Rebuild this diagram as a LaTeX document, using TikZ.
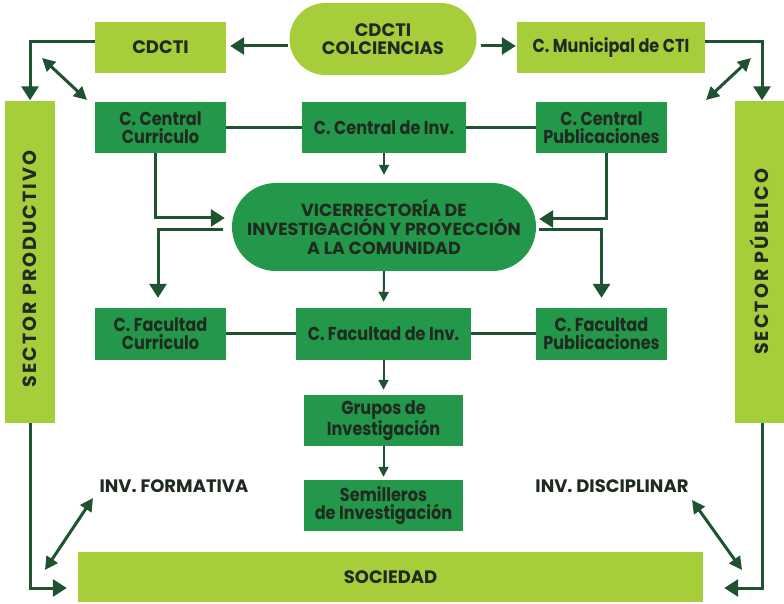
\documentclass[tikz,border=0pt]{standalone}
\usepackage{fontspec}
\setmainfont{Poppins}[FakeStretch=0.86]
\newfontfamily\capsfont{Poppins}
\newfontfamily\sidefont{Poppins}[LetterSpace=11]
\usetikzlibrary{shapes.misc,arrows.meta}
\definecolor{lg}{HTML}{A6CE3A}
\definecolor{dg}{HTML}{24984A}
\definecolor{ln}{HTML}{1E5230}
\definecolor{tx}{HTML}{1F2A21}
\begin{document}
\begin{tikzpicture}[x=1pt,y=1pt,
  box/.style={rectangle, draw=none, inner sep=0pt, align=center, text=tx,
    font=\bfseries\fontsize{18.7}{18}\selectfont},
  caps/.style={font=\capsfont\bfseries\fontsize{18}{18}\selectfont},
  lite/.style={box, fill=lg},
  dark/.style={box, fill=dg},
  pill/.style={rounded rectangle, draw=none, inner sep=0pt, align=center, text=tx},
  wire/.style={draw=ln, line width=3pt},
  thin/.style={draw=ln, line width=2pt},
  big/.style={wire, -{Triangle[length=14pt,width=17pt]}},
  small/.style={thin, -{Triangle[length=10pt,width=10pt]}},
  both/.style={wire, {Triangle[length=13pt,width=13pt]}-{Triangle[length=13pt,width=13pt]}},
  free/.style={text=tx, caps},
  side/.style={text=tx, rotate=90, font=\sidefont\bfseries\fontsize{19}{19}\selectfont}
]
\useasboundingbox (0,0) rectangle (784,603);

% top row
\node[pill, fill=lg, minimum width=187, minimum height=72, caps] (colc) at (383,564) {CDCTI\\COLCIENCIAS};
\node[lite, minimum width=131, minimum height=51, caps] (cdcti) at (160.5,555.5) {CDCTI};
\node[lite, minimum width=188, minimum height=51] (muni) at (611,555.5) {C. Municipal de CTI};

% side sectors
\node[lite, minimum width=50, minimum height=321] (sp) at (30,341) {};
\node[side] (sptxt) at ([yshift=-7pt]sp.center) {SECTOR PRODUCTIVO};
\node[lite, minimum width=49, minimum height=321] (spub) at (759.5,341) {};
\node[side] (spubtxt) at (spub.center) {SECTOR PÚBLICO};

% central committees
\node[dark, minimum width=131, minimum height=51] (ccc) at (160.5,475.5) {C. Central\\Curriculo};
\node[dark, minimum width=164, minimum height=51] (cci) at (384,475.5) {C. Central de Inv.};
\node[dark, minimum width=131, minimum height=51] (ccp) at (601.5,475.5) {C. Central\\Publicaciones};

% vice-rectorate
\node[pill, fill=dg, minimum width=304, minimum height=88,
  font=\capsfont\bfseries\fontsize{17.5}{19}\selectfont] (vic) at (384,376)
  {VICERRECTORÍA DE\\INVESTIGACIÓN Y PROYECCIÓN\\A LA COMUNIDAD};

% faculty committees
\node[dark, minimum width=131, minimum height=52] (fcu) at (160.5,269) {C. Facultad\\Curriculo};
\node[dark, minimum width=175, minimum height=52] (fci) at (383.5,269) {C. Facultad de Inv.};
\node[dark, minimum width=131, minimum height=52] (fcp) at (601.5,269) {C. Facultad\\Publicaciones};

% research groups
\node[dark, minimum width=159, minimum height=51] (gru) at (383.5,182.5) {Grupos de\\Investigación};
\node[dark, minimum width=159, minimum height=51] (sem) at (383.5,97.5) {Semilleros\\de Investigación};

% society
\node[lite, minimum width=625, minimum height=50, caps] (soc) at (390.5,26) {SOCIEDAD};

% free labels
\node[free] (invf) at (174,117) {INV. FORMATIVA};
\node[free] (invd) at (612,117) {INV. DISCIPLINAR};

% ends of the two-way arrows
\coordinate (tl1) at (42,545);
\coordinate (tl2) at (87,503);
\coordinate (tr1) at (751,545);
\coordinate (tr2) at (706,503);
\coordinate (bl1) at (45,33);
\coordinate (bl2) at (93,105);
\coordinate (br1) at (692,103);
\coordinate (br2) at (742,33);

% top row arrows
\draw[big, shorten <=1pt, shorten >=4pt] ([yshift=-7pt]colc.west) -- ([yshift=-7pt]colc.west -| cdcti.east);
\draw[big, shorten <=4pt, shorten >=1pt] ([yshift=-7pt]colc.east) -- ([yshift=-7pt]colc.east -| muni.west);
\draw[big, shorten >=1pt] ([yshift=5.5pt]cdcti.west) -| (sp.north);
\draw[big, shorten >=1pt] ([yshift=5.5pt]muni.east) -| ([xshift=2.5pt]spub.north);
\draw[both] (tl1) -- (tl2);
\draw[both] (tr1) -- (tr2);

% central row
\draw[wire] (ccc.east) -- (cci.west);
\draw[wire] (cci.east) -- (ccp.west);
\draw[small, shorten >=8pt] (cci.south) -- (vic.north);
\draw[big, shorten >=7pt] ([xshift=-5.5pt]ccc.south) |- ([yshift=9pt]vic.west);
\draw[big, shorten >=3pt] ([xshift=4.5pt]ccp.south) |- ([yshift=8pt]vic.east);
\draw[big, shorten <=9pt, shorten >=10pt] ([yshift=-3pt]vic.west) -| ([xshift=-2.5pt]fcu.north);
\draw[big, shorten <=3pt, shorten >=10pt] ([yshift=-3pt]vic.east) -| (fcp.north);

% faculty row
\draw[small, shorten >=6pt] (vic.south) -- (fci.north);
\draw[wire] (fcu.east) -- (fci.west);
\draw[wire] (fci.east) -- (fcp.west);
\draw[small, shorten >=5pt] (fci.south) -- (gru.north);
\draw[small, shorten >=3pt] (gru.south) -- (sem.north);

% towards society
\draw[big, shorten >=11pt] (sp.south) |- ([yshift=-11pt]soc.west);
\draw[big, shorten >=21pt] ([xshift=2.5pt]spub.south) |- ([yshift=-11pt]soc.east);
\draw[both] (bl1) -- (bl2);
\draw[both] (br1) -- (br2);
\end{tikzpicture}
\end{document}
